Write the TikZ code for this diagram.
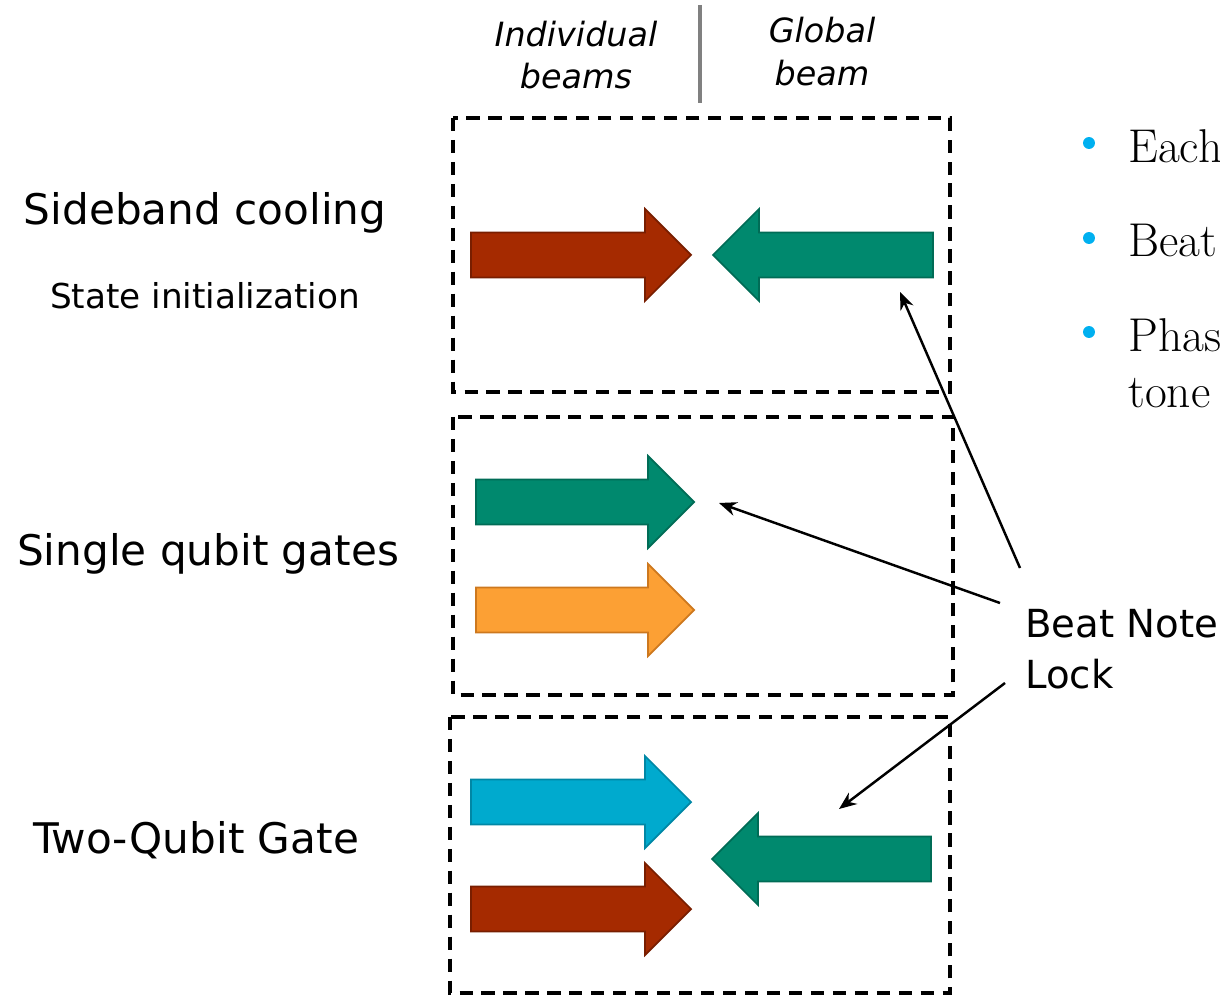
\documentclass[tikz,border=0pt]{standalone}
\usepackage{fontspec}
\setsansfont{DejaVu Sans}
\usepackage{tikz}
\usetikzlibrary{arrows.meta,positioning,calc}
\definecolor{beamred}{RGB}{165,42,0}
\definecolor{beamredline}{RGB}{120,30,0}
\definecolor{beamteal}{RGB}{0,137,110}
\definecolor{beamtealline}{RGB}{0,108,86}
\definecolor{beamorange}{RGB}{252,160,52}
\definecolor{beamorangeline}{RGB}{205,120,30}
\definecolor{beamcyan}{RGB}{0,170,206}
\definecolor{beamcyanline}{RGB}{0,135,165}
\definecolor{bulletblue}{RGB}{0,176,240}

% block arrow: colour, tail x, tip x, centre y, head length (negative points left)
\newcommand{\beamarrow}[5]{%
  \filldraw[fill=#1, draw=#1line, line width=1pt]
    (#2,{#4-22.5}) -- ({#3-(#5)},{#4-22.5}) -- ({#3-(#5)},{#4-46}) -- (#3,#4)
    -- ({#3-(#5)},{#4+46}) -- ({#3-(#5)},{#4+22.5}) -- (#2,{#4+22.5}) -- cycle;}

\begin{document}
\begin{tikzpicture}[
    x=0.02cm, y=-0.02cm,
    rowlabel/.style={font=\sffamily\fontsize{24}{28}\selectfont, anchor=base},
    sublabel/.style={font=\sffamily\fontsize{19.5}{23}\selectfont, anchor=base},
    headlabel/.style={font=\sffamily\itshape\fontsize{19}{23}\selectfont, anchor=base},
    bullettext/.style={font=\fontsize{27}{32}\selectfont, anchor=base west, inner sep=0pt},
    dashbox/.style={draw, line width=2.1pt, dash pattern=on 7.5pt off 5pt},
    beatline/.style={-{Stealth[length=10pt,width=8pt]}, line width=1.4pt}
]
\useasboundingbox (0,0) rectangle (1220,996);

% column headers
\node[headlabel] (indiv) at (576,47) {Individual};
\node[headlabel] (indivb) at (576,89) {beams};
\node[headlabel] (glob) at (822,43) {Global};
\node[headlabel] (globb) at (822,86) {beam};
\draw[line width=2.8pt, black!50] (700,5) -- (700,103);

% row labels
\node[rowlabel] (cool) at (205,225) {Sideband cooling};
\node[sublabel] (init) at (205,309) {State initialization};
\node[rowlabel] (single) at (208,565) {Single qubit gates};
\node[rowlabel] (two) at (196,853) {Two-Qubit Gate};

% boxes
\draw[dashbox] (453,118) rectangle (950,392);
\draw[dashbox] (453,417) rectangle (953,695);
\draw[dashbox] (450,717) rectangle (950,993);

% beams
\beamarrow{beamred}{471}{691}{255}{46}
\beamarrow{beamteal}{933}{713}{255}{-46}
\beamarrow{beamteal}{476}{694}{502}{46}
\beamarrow{beamorange}{476}{694}{610}{46}
\beamarrow{beamcyan}{471}{691}{802}{46}
\beamarrow{beamred}{471}{691}{909}{46}
\beamarrow{beamteal}{931}{712}{859}{-46}

% beat note lock
\node[font=\sffamily\fontsize{22}{28.5}\selectfont, align=left, anchor=base west, inner sep=0pt] (lock) at (1025,688) {Beat Note\\Lock};
\coordinate (from1) at (1020,568);
\coordinate (from2) at (1000,603);
\coordinate (from3) at (1005,683);
\coordinate (to1) at (900,292);
\coordinate (to2) at (719,503);
\coordinate (to3) at (839,809);
\draw[beatline] (from1) -- (to1);
\draw[beatline] (from2) -- (to2);
\draw[beatline] (from3) -- (to3);

% bullets
\foreach \yy in {143,238,332}
  \fill[bulletblue] (1089,\yy) circle[radius=3.4pt];
\node[bullettext] (each) at (1128,163) {Each};
\node[bullettext] (beat) at (1128,257) {Beat};
\node[bullettext] (phas) at (1128,352) {Phas};
\node[bullettext] (tone) at (1128,408) {tone};
\end{tikzpicture}
\end{document}
